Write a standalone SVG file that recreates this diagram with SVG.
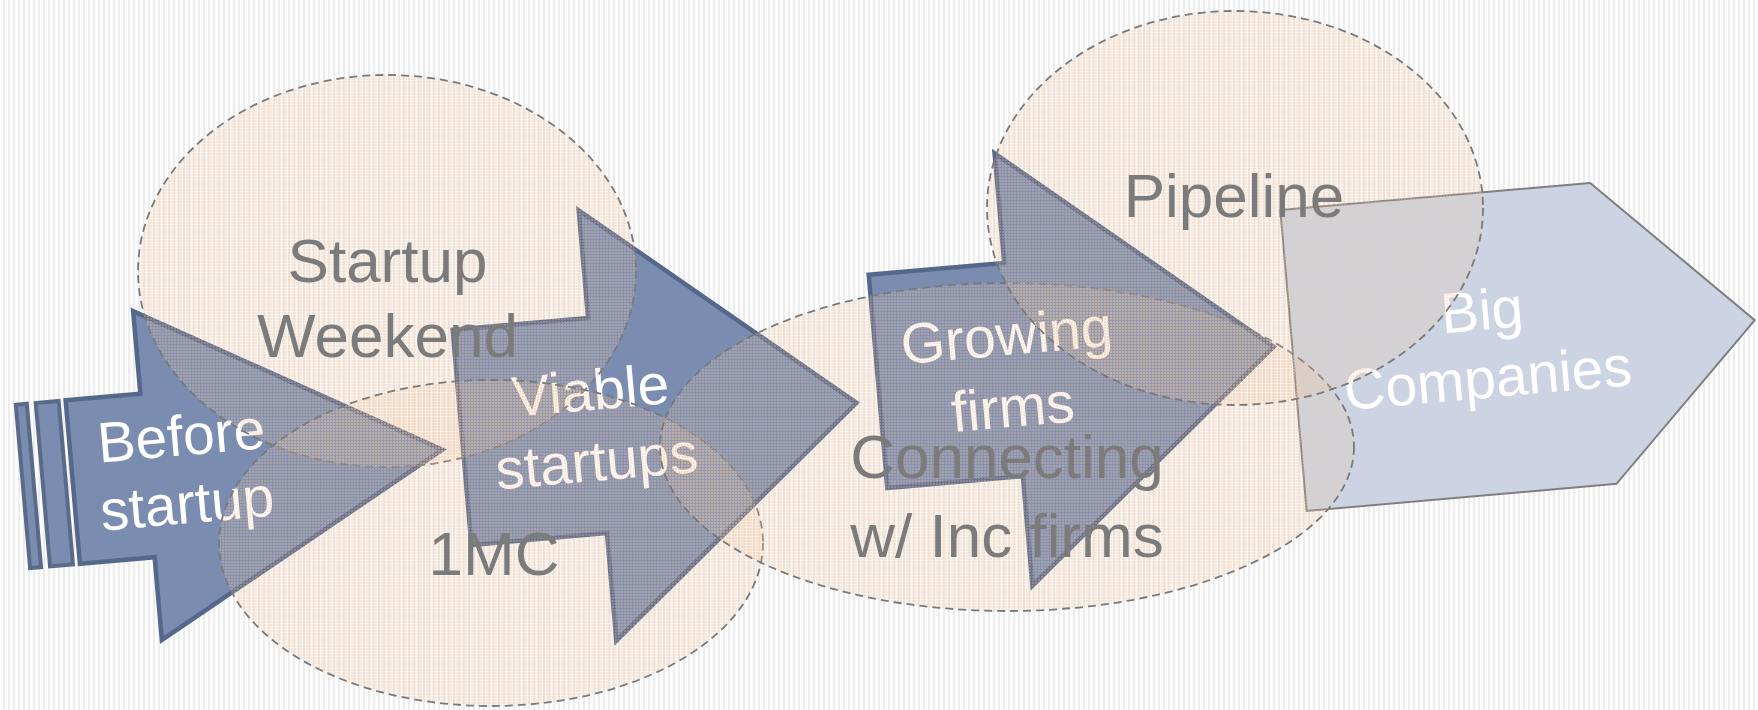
<svg xmlns="http://www.w3.org/2000/svg" width="1758" height="710" viewBox="0 0 1758 710">
  <defs>
    <!-- fine vertical pinstripe backdrop -->
    <pattern id="pinstripe" width="5" height="10" patternUnits="userSpaceOnUse">
      <rect width="5" height="10" fill="#fcfcfc"/>
      <rect x="3" width="2" height="10" fill="#ededed"/>
    </pattern>
    <!-- dotted peach screen used for the zones -->
    <pattern id="peach-screen" width="3" height="3" patternUnits="userSpaceOnUse">
      <rect width="3" height="3" fill="rgb(242,204,164)" fill-opacity="0.12"/>
      <rect width="2" height="2" fill="rgb(242,198,152)" fill-opacity="0.28"/>
    </pattern>
    <style>
      .stage { fill: #7a8db0; stroke: #55688b; stroke-width: 4.5; stroke-linejoin: miter; }
      .bar { fill: #7a8db0; stroke: #5a6b8a; stroke-width: 4; }
      .goal { fill: #ccd4e3; stroke: #7f7f7f; stroke-width: 2; }
      .zone { fill: url(#peach-screen); stroke: #7a7a7a; stroke-width: 1.8; stroke-dasharray: 8 5; }
      .inner { font-family: "Liberation Sans", Arial, sans-serif; font-size: 57px; fill: #ffffff; text-anchor: middle; }
      .outer { font-family: "Liberation Sans", Arial, sans-serif; font-size: 62px; fill: #7b7b7b; text-anchor: middle; }
    </style>
  </defs>

  <rect width="1758" height="710" fill="url(#pinstripe)"/>

  <!-- stage arrows -->
  <g id="before-startup" transform="translate(147.5 475.5) rotate(-5)">
    <rect class="bar" x="-125" y="-82" width="11" height="164"/>
    <rect class="bar" x="-105" y="-82" width="23" height="164"/>
    <path class="stage" d="M -75 -82 L 0 -82 L 0 -165 L 296 0 L 0 165 L 0 82 L -75 82 Z"/>
    <text class="inner" x="37" y="-17">Before</text>
    <text class="inner" x="37" y="51">startup</text>
  </g>

  <g id="viable-startups" transform="translate(597.5 425.5) rotate(-5)">
    <path class="stage" d="M -136 -108 L 0 -108 L 0 -216 L 260 0 L 0 216 L 0 108 L -136 108 Z"/>
    <text class="inner" x="-4" y="-16">Viable</text>
    <text class="inner" x="-4" y="55">startups</text>
  </g>

  <g id="growing-firms" transform="translate(1013.5 369.5) rotate(-5)">
    <path class="stage" d="M -136 -107 L 0 -107 L 0 -217 L 261 0 L 0 217 L 0 107 L -136 107 Z"/>
    <text class="inner" x="-4" y="-15">Growing</text>
    <text class="inner" x="-4" y="57">firms</text>
  </g>

  <g id="big-companies" transform="translate(1293.5 360.5) rotate(-5)">
    <polygon class="goal" points="0,-151 311,-151 463,0 311,151 0,151"/>
    <text class="inner" x="192" y="-14">Big</text>
    <text class="inner" x="192" y="54">Companies</text>
  </g>

  <!-- programme zones laid over the stages -->
  <g id="startup-weekend">
    <ellipse class="zone" cx="387" cy="271" rx="249" ry="196"/>
    <text class="outer" x="387.5" y="282">Startup</text>
    <text class="outer" x="387.5" y="357">Weekend</text>
  </g>

  <g id="one-mc">
    <ellipse class="zone" cx="491" cy="543" rx="272" ry="163"/>
    <text class="outer" x="494" y="575">1MC</text>
  </g>

  <g id="connecting">
    <ellipse class="zone" cx="1007" cy="447" rx="347" ry="164"/>
    <text class="outer" x="1007" y="478">Connecting</text>
    <text class="outer" x="1007" y="557">w/ Inc firms</text>
  </g>

  <g id="pipeline">
    <ellipse class="zone" cx="1235" cy="208" rx="248" ry="197"/>
    <text class="outer" x="1234" y="217">Pipeline</text>
  </g>
</svg>
